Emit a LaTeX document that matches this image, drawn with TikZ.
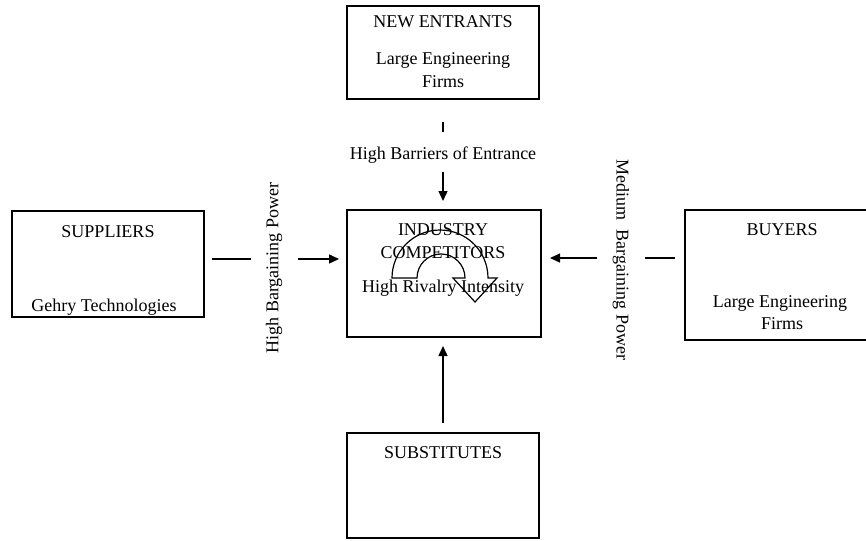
\documentclass[tikz,border=0pt]{standalone}
\usepackage{fontspec}
\setmainfont{Liberation Serif}
\usetikzlibrary{arrows.meta}
\begin{document}
\begin{tikzpicture}[x=1pt,y=-1pt,
  box/.style={draw, line width=1.3pt, inner sep=0pt, outer sep=0pt},
  lbl/.style={font=\fontsize{18}{21}\selectfont, inner sep=0pt, anchor=base},
  side/.style={font=\fontsize{18}{21}\selectfont, inner sep=0pt, anchor=center},
  conn/.style={line width=1.4pt},
  arr/.style={conn, -{Triangle[length=10pt,width=9pt]}},
  uturn/.style={draw, line width=1.2pt, fill=white}]
\useasboundingbox (0,0) rectangle (866,540);

% the five forces
\node[box, minimum width=192pt, minimum height=93pt]  (entr) at (443,52.5)  {};
\node[box, minimum width=194pt, minimum height=127pt] (ind)  at (444,273.5) {};
\node[box, minimum width=192pt, minimum height=106pt] (sup)  at (108,264)   {};
\node[box, minimum width=192pt, minimum height=130pt] (buy)  at (781,275)   {};
\node[box, minimum width=192pt, minimum height=105pt] (subs) at (443,485.5) {};

% rivalry u-turn arrow
\path[uturn] (392,278) arc[start angle=180, end angle=0, radius=48pt]
  -- (497,278) -- (475,302) -- (453,278) -- (465,278)
  arc[start angle=0, end angle=180, radius=24pt] -- cycle;

% box texts
\node[lbl] (entrT)  at (443,28)  {NEW ENTRANTS};
\node[lbl] (entrA)  at (443,65)  {Large Engineering};
\node[lbl] (entrB)  at (443,88)  {Firms};
\node[lbl] (indA)   at (443,235) {INDUSTRY};
\node[lbl] (indB)   at (443,258) {COMPETITORS};
\node[lbl] (indC)   at (443,292) {High Rivalry Intensity};
\node[lbl] (supT)   at (108,237) {SUPPLIERS};
\node[lbl] (supA)   at (104,311) {Gehry Technologies};
\node[lbl] (buyT)   at (782,235) {BUYERS};
\node[lbl] (buyA)   at (780,307) {Large Engineering};
\node[lbl] (buyB)   at (782,329) {Firms};
\node[lbl] (subsT)  at (443,458) {SUBSTITUTES};

% force labels
\node[lbl] (barrier) at (443,160) {High Barriers of Entrance};
\node[side, rotate=90]  (supP) at (274,268) {High Bargaining Power};
\node[side, rotate=-90] (buyP) at (621,260) {Medium\ \ Bargaining Power};

% connector end points
\coordinate (tA) at (443,122); \coordinate (tB) at (443,132);
\coordinate (tC) at (443,172); \coordinate (tD) at (443,201);
\coordinate (lA) at (212,259); \coordinate (lB) at (251,259);
\coordinate (lC) at (298,259); \coordinate (lD) at (339,259);
\coordinate (rA) at (597,258); \coordinate (rB) at (550,258);
\coordinate (rC) at (645,258); \coordinate (rD) at (675,258);
\coordinate (bA) at (443,423); \coordinate (bB) at (443,346);

% connectors
\draw[conn] (tA) -- (tB);
\draw[arr]  (tC) -- (tD);
\draw[conn] (lA) -- (lB);
\draw[arr]  (lC) -- (lD);
\draw[arr]  (rA) -- (rB);
\draw[conn] (rC) -- (rD);
\draw[arr]  (bA) -- (bB);
\end{tikzpicture}
\end{document}
